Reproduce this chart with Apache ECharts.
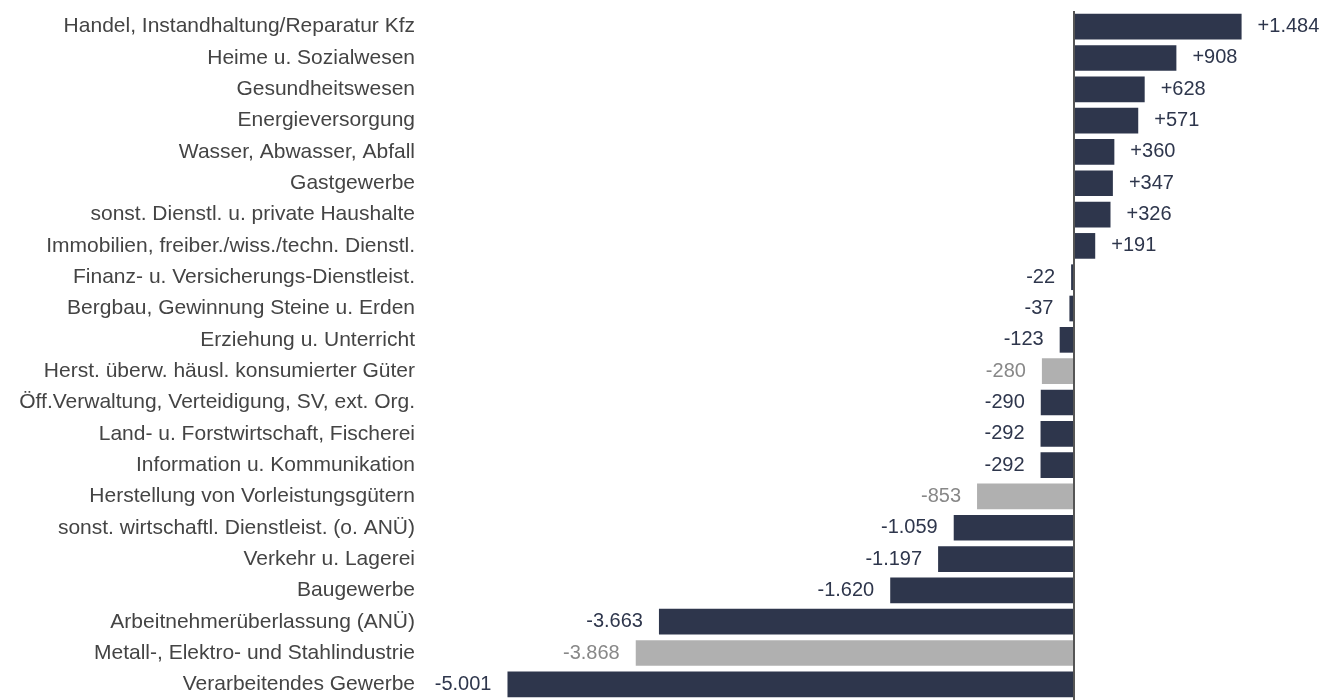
<!DOCTYPE html>
<html>
<head>
<meta charset="utf-8">
<script src="https://cdn.jsdelivr.net/npm/echarts@6/dist/echarts.min.js"></script>
<style>
  html, body { margin: 0; padding: 0; background: #fff; }
  #chart { width: 1334px; height: 700px; }
</style>
</head>
<body>
<div id="chart"></div>
<script>
  // branchen, von oben nach unten
  var categories = [
    'Handel, Instandhaltung/Reparatur Kfz',
    'Heime u. Sozialwesen',
    'Gesundheitswesen',
    'Energieversorgung',
    'Wasser, Abwasser, Abfall',
    'Gastgewerbe',
    'sonst. Dienstl. u. private Haushalte',
    'Immobilien, freiber./wiss./techn. Dienstl.',
    'Finanz- u. Versicherungs-Dienstleist.',
    'Bergbau, Gewinnung Steine u. Erden',
    'Erziehung u. Unterricht',
    'Herst. überw. häusl. konsumierter Güter',
    'Öff.Verwaltung, Verteidigung, SV, ext. Org.',
    'Land- u. Forstwirtschaft, Fischerei',
    'Information u. Kommunikation',
    'Herstellung von Vorleistungsgütern',
    'sonst. wirtschaftl. Dienstleist. (o. ANÜ)',
    'Verkehr u. Lagerei',
    'Baugewerbe',
    'Arbeitnehmerüberlassung (ANÜ)',
    'Metall-, Elektro- und Stahlindustrie',
    'Verarbeitendes Gewerbe'
  ];
  var values = [1484, 908, 628, 571, 360, 347, 326, 191, -22, -37, -123, -280, -290, -292, -292, -853, -1059, -1197, -1620, -3663, -3868, -5001];
  // unterbranchen grau
  var subBranch = ['Herst. überw. häusl. konsumierter Güter', 'Herstellung von Vorleistungsgütern', 'Metall-, Elektro- und Stahlindustrie'];

  var dark = '#2e364c';
  var grey = '#b0b0b0';

  function fmt(v) {
    var s = Math.abs(v).toString().replace(/\B(?=(\d{3})+(?!\d))/g, '.');
    return (v > 0 ? '+' : '-') + s;
  }

  var barData = [];
  for (var i = 0; i < values.length; i++) {
    var isSub = subBranch.indexOf(categories[i]) >= 0;
    var pos = values[i] >= 0;
    barData.push({
      value: values[i],
      itemStyle: { color: isSub ? grey : dark },
      label: {
        position: pos ? 'right' : 'left',
        color: isSub ? '#888888' : dark
      }
    });
  }

  var chart = echarts.init(document.getElementById('chart'));
  chart.setOption({
    animation: false,
    grid: { left: 451, width: 849, top: 11, height: 694 },
    xAxis: {
      type: 'value',
      min: -5500,
      max: 2000,
      show: false
    },
    yAxis: {
      type: 'category',
      data: categories,
      inverse: true,
      axisLine: { show: false },
      axisTick: { show: false },
      axisLabel: {
        margin: 36,
        fontFamily: 'Liberation Sans, Arial, sans-serif',
        fontSize: 21,
        color: '#444444'
      }
    },
    series: [{
      type: 'bar',
      data: barData,
      barCategoryGap: '18%',
      label: {
        show: true,
        distance: 16,
        fontFamily: 'Liberation Sans, Arial, sans-serif',
        fontSize: 20,
        formatter: function (p) { return fmt(p.value); }
      },
      markLine: {
        silent: true,
        symbol: 'none',
        label: { show: false },
        lineStyle: { color: '#555555', width: 2, type: 'solid' },
        data: [{ xAxis: 0 }]
      }
    }]
  });
</script>
</body>
</html>
